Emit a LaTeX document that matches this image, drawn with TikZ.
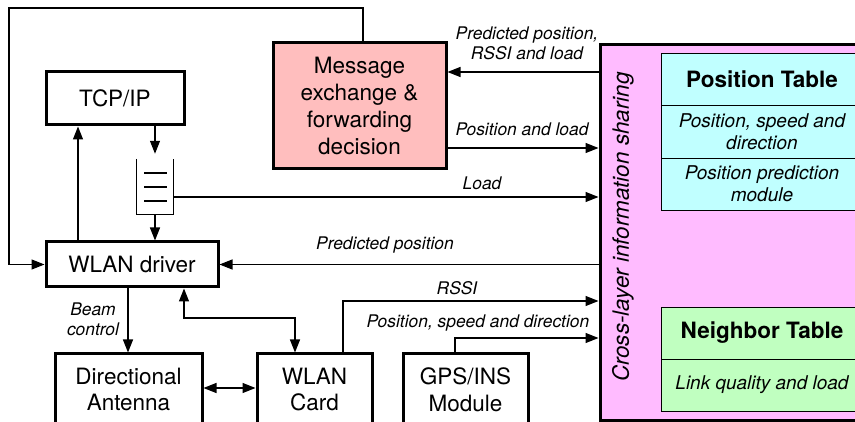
\documentclass[tikz,border=0pt]{standalone}
\usepackage{fontspec}
\setmainfont{TeX Gyre Heros}
\usetikzlibrary{arrows.meta,calc}
\definecolor{pinkbig}{RGB}{255,187,255}
\definecolor{msgred}{RGB}{255,190,190}
\definecolor{cyanT}{RGB}{192,255,255}
\definecolor{greenT}{RGB}{192,255,192}
\begin{document}
\begin{tikzpicture}[x=1pt,y=-1pt,
  box/.style={draw,line width=3pt,align=center,inner sep=0pt,font=\fontsize{22.5}{26.7}\selectfont},
  conn/.style={line width=1.2pt,-{Triangle[length=13pt,width=10pt]}},
  dconn/.style={line width=1.2pt,{Triangle[length=13pt,width=10pt]}-{Triangle[length=13pt,width=10pt]}},
  plain/.style={line width=1.2pt},
  lbl/.style={font=\fontsize{17.4}{20}\selectfont\itshape,align=center,inner sep=0pt},
  tcell/.style={draw,line width=0.9pt,align=center,inner sep=0pt,minimum width=202pt},
  thead/.style={tcell,font=\fontsize{22.5}{26}\selectfont\bfseries},
  titem/.style={tcell,font=\fontsize{19}{22}\selectfont\itshape}
]
\useasboundingbox (0,0) rectangle (855,422);
\clip (0,0) rectangle (855,422);
% big shared box
\node[box,fill=pinkbig,minimum width=280pt,minimum height=375pt] (big) at (740,232.5) {};
\node[font=\fontsize{22.5}{27}\selectfont\itshape,rotate=90,inner sep=0pt] (cl) at (623,227) {Cross-layer information sharing};
% tables
\node[thead,fill=cyanT,minimum height=52pt] (pt1) at (762,79) {Position Table};
\node[titem,fill=cyanT,minimum height=53pt] (pt2) at (762,131.5) {Position, speed and\\direction};
\node[titem,fill=cyanT,minimum height=52pt] (pt3) at (762,184) {Position prediction\\module};
\node[thead,fill=greenT,minimum height=52pt] (nt1) at (762,333) {Neighbor Table};
\node[titem,fill=greenT,minimum height=52pt] (nt2) at (762,385) {Link quality and load};
% boxes
\node[box,minimum width=138pt,minimum height=53pt] (tcp) at (115,98.5) {TCP/IP};
\node[box,minimum width=172pt,minimum height=45pt] (drv) at (132,264.5) {WLAN driver};
\node[box,fill=msgred,minimum width=173pt,minimum height=126pt] (msg) at (359.5,106) {Message\\exchange \&\\forwarding\\decision};
\node[box,minimum width=147pt,minimum height=71pt] (ant) at (128.5,389.5) {Directional\\Antenna};
\node[box,minimum width=115pt,minimum height=71pt] (card) at (314.5,389.5) {WLAN\\Card};
\node[box,minimum width=125pt,minimum height=71pt] (gps) at (465.5,389.5) {GPS/INS\\Module};
% queue
\node[minimum width=36pt,minimum height=55pt,inner sep=0pt] (q) at (155,186.5) {};
\draw[plain] (q.north west) -- (q.south west) -- (q.south east) -- (q.north east);
\foreach \yy in {173,187,201} \draw[plain] (144,\yy) -- (167,\yy);
% connectors
\coordinate (tl) at (9,8);
\draw[conn] ($(msg.north)+(3.5,0)$) |- (tl) |- (drv.west);
\coordinate (xa) at (78,0);
\draw[conn] (drv.north -| xa) -- (tcp.south -| xa);
\draw[conn,shorten >=5pt] (tcp.south -| q.north) -- (q.north);
\draw[conn] (q.south) -- (drv.north -| q.south);
\coordinate (yload) at (0,197);
\draw[conn] (q.east |- yload) -- (big.west |- yload);
\coordinate (ypr) at (0,72);
\draw[conn] (big.west |- ypr) -- (msg.east |- ypr);
\coordinate (ypl) at (0,148);
\draw[conn] (msg.east |- ypl) -- (big.west |- ypl);
\draw[conn] (big.west |- drv.east) -- (drv.east);
\coordinate (xb) at (128,0);
\draw[conn] (drv.south -| xb) -- (ant.north -| xb);
\coordinate (xc) at (184,0);
\coordinate (bend) at (295,318);
\draw[dconn] (drv.south -| xc) |- (bend) -- (card.north -| bend);
\coordinate (yac) at (0,388);
\draw[dconn] (ant.east |- yac) -- (card.west |- yac);
\coordinate (xr) at (343,0);
\coordinate (yr) at (0,301);
\draw[conn] (card.north -| xr) |- (big.west |- yr);
\coordinate (xg) at (455,0);
\coordinate (yg) at (0,338);
\draw[conn] (gps.north -| xg) |- (big.west |- yg);
% labels
\node[lbl] (l1) at (527,43) {Predicted position,\\RSSI and load};
\node[lbl] (l2) at (522,129) {Position and load};
\node[lbl] (l3) at (482,183) {Load};
\node[lbl] (l4) at (385,245) {Predicted position};
\node[lbl] (l5) at (457,288) {RSSI};
\node[lbl] (l6) at (478,323) {Position, speed and direction};
\node[lbl] (l7) at (93,319.5) {Beam\\control};
\end{tikzpicture}
\end{document}
